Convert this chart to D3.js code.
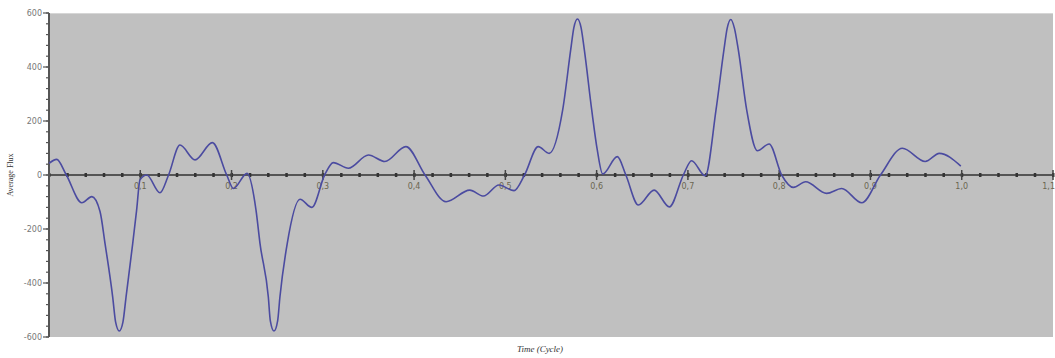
<!DOCTYPE html>
<html><head><meta charset="utf-8">
<script src="https://cdn.jsdelivr.net/npm/d3@7"></script>
<style>body{margin:0;background:#fff}svg{display:block}</style>
</head><body>
<svg id="c" width="1055" height="358"></svg>
<script>
// Data
const time = [0,0.0084,0.019,0.036,0.047,0.0559,0.0614,0.0698,0.073,0.077,0.081,0.0844,0.0917,0.096,0.0997,0.107,0.1216,0.131,0.1435,0.16,0.179,0.1947,0.202,0.217,0.2268,0.2312,0.2403,0.2425,0.2465,0.2505,0.253,0.261,0.275,0.288,0.302,0.3115,0.328,0.35,0.368,0.391,0.412,0.435,0.461,0.476,0.493,0.5095,0.521,0.536,0.548,0.5628,0.5716,0.575,0.579,0.583,0.5865,0.5946,0.6007,0.6066,0.6227,0.632,0.6457,0.663,0.6797,0.695,0.704,0.719,0.7308,0.7395,0.743,0.747,0.751,0.7552,0.7644,0.776,0.789,0.8027,0.8155,0.829,0.852,0.8685,0.8905,0.911,0.935,0.96,0.9755,0.999];
const average = [43,58,0,-103,-80,-135,-254,-452,-545,-578,-545,-452,-254,-130,-18,0,-66,0,111,56,120,0,-50,6,-130,-254,-452,-540,-578,-540,-452,-254,-90,-120,0,46,25,74,50,105,0,-99,-56,-78,-37,-58,0,105,80,241,464,545,578,545,464,241,93,4,68,0,-111,-56,-118,0,53,-3,241,464,543,576,543,464,241,90,115,0,-46,-25,-68,-50,-103,0,99,50,80,33];
const xTicks = [0.1,0.2,0.3,0.4,0.5,0.6,0.7,0.8,0.9,1.0,1.1];
const yTicks = [600,400,200,0,-200,-400,-600];

const svg = d3.select("#c");
const L=49,R=1053,T=13,B=337;
const x = d3.scaleLinear().domain([0,1.1]).range([L,R]);
const y = d3.scaleLinear().domain([-600,600]).range([B,T]);

svg.append("rect").attr("x",L).attr("y",T).attr("width",R-L).attr("height",B-T).attr("fill","#c0c0c0");
svg.append("line").attr("x1",L).attr("x2",R).attr("y1",T+0.5).attr("y2",T+0.5).attr("stroke","#d6d6d6");

// x axis at zero
const minorX = d3.range(0,1.1001,0.02);
const gx = svg.append("g");
gx.append("line").attr("x1",L).attr("x2",R).attr("y1",y(0)).attr("y2",y(0)).attr("stroke","#555").attr("stroke-width",2);
gx.selectAll(".mx").data(minorX).join("rect")
  .attr("x",d=>x(d)-1).attr("y",y(0)-2).attr("width",2.5).attr("height",4).attr("fill","#333");
gx.selectAll(".Mx").data(xTicks).join("line")
  .attr("x1",d=>x(d)).attr("x2",d=>x(d)).attr("y1",y(0)-5).attr("y2",y(0)+5).attr("stroke","#444").attr("stroke-width",1.5);
gx.selectAll("text").data(xTicks).join("text")
  .attr("x",d=>d>1.05?1055:x(d)).attr("y",y(0)+14).attr("text-anchor",d=>d>1.05?"end":"middle")
  .attr("font-family","DejaVu Sans").attr("font-size",8).attr("fill","#6b6650")
  .text(d=>d3.format(".1f")(d).replace(".",","));

// y axis
const gy = svg.append("g");
gy.append("line").attr("x1",L).attr("x2",L).attr("y1",T).attr("y2",B).attr("stroke","#555").attr("stroke-width",2);
gy.selectAll(".my").data(d3.range(-600,601,40)).join("line")
  .attr("x1",L-3).attr("x2",L).attr("y1",d=>y(d)).attr("y2",d=>y(d)).attr("stroke","#555").attr("stroke-width",1.2);
gy.selectAll(".My").data(yTicks).join("line")
  .attr("x1",L-6).attr("x2",L).attr("y1",d=>y(d)).attr("y2",d=>y(d)).attr("stroke","#555").attr("stroke-width",1.2);
gy.selectAll("text").data(yTicks).join("text")
  .attr("x",L-7).attr("y",d=>y(d)+3).attr("text-anchor","end")
  .attr("font-family","DejaVu Sans").attr("font-size",8).attr("fill","#777")
  .text(d=>d);

// curve
const pts = time.map((t,i)=>[t,average[i]]);
svg.append("path").datum(pts)
  .attr("d",d3.line().x(d=>x(d[0])).y(d=>y(d[1])).curve(d3.curveMonotoneX))
  .attr("fill","none").attr("stroke","#4b4ba0").attr("stroke-width",1.6);

// titles
svg.append("text").attr("x",540).attr("y",352).attr("text-anchor","middle")
  .attr("font-family","Liberation Serif").attr("font-style","italic").attr("font-size",9).attr("fill","#333")
  .text("Time (Cycle)");
svg.append("text").attr("transform","translate(13,"+(y(0))+") rotate(-90)").attr("text-anchor","middle")
  .attr("font-family","Liberation Serif").attr("font-size",8).attr("fill","#333")
  .text("Average Flux");
</script>
</body></html>
